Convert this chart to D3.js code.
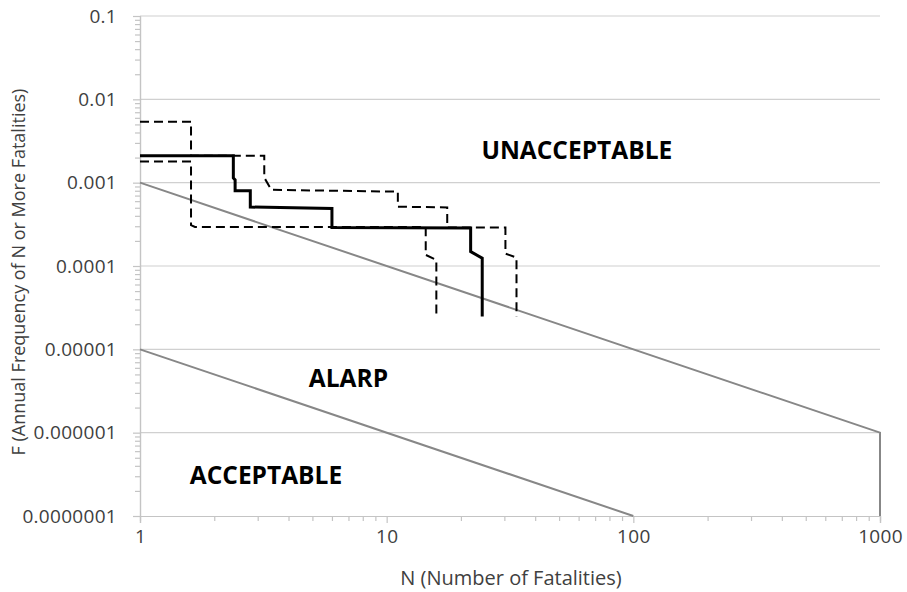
<!DOCTYPE html>
<html>
<head>
<meta charset="utf-8">
<script src="https://cdn.jsdelivr.net/npm/d3@7"></script>
<style>
body{margin:0;background:#fff;}
svg text{font-family:"Open Sans",sans-serif;}
</style>
</head>
<body>
<div id="chart"></div>
<script>
// tick values and labels
const nTicks = [1, 10, 100, 1000];
const nTickLabels = ["1", "10", "100", "1000"];
const fTicks = [0.1, 0.01, 0.001, 0.0001, 0.00001, 0.000001, 0.0000001];
const fTickLabels = ["0.1", "0.01", "0.001", "0.0001", "0.00001", "0.000001", "0.0000001"];

// criterion lines [N, F]
const upperCriterion = [[1, 1e-3], [1000, 1e-6], [1000, 1e-7]];
const lowerCriterion = [[1, 1e-5], [100, 1e-7]];

// FN curves [N, F]
const bestEstimate = [[1, 0.0021], [2.39, 0.0021], [2.39, 0.00114], [2.43, 0.00108], [2.43, 0.0008], [2.8, 0.0008],
  [2.8, 0.00051], [6, 0.00049], [6, 0.00029], [21.9, 0.000285], [21.9, 0.000149], [24.4, 0.000124], [24.4, 0.0000247]];
const upperBound = [[1, 0.0054], [1.61, 0.0054], [1.61, 0.0021], [3.19, 0.0021], [3.19, 0.00115], [3.41, 0.00082],
  [11.1, 0.00078], [11.1, 0.000515], [17.6, 0.000505], [17.6, 0.00029], [30.3, 0.00029], [30.3, 0.000141],
  [33.6, 0.000126], [33.6, 0.0000247]];
const lowerBound = [[1, 0.0018], [1.61, 0.0018], [1.61, 0.00031], [1.67, 0.000294], [14.4, 0.000294],
  [14.4, 0.000136], [15.9, 0.000118], [15.9, 0.0000247]];

// region labels
const regionNames = ["UNACCEPTABLE", "ALARP", "ACCEPTABLE"];
const regionN = [59, 7.0, 3.24];
const regionF = [0.0019, 3.5e-6, 2.42e-7];

const W = 907, H = 592;
const svg = d3.select("#chart").append("svg").attr("width", W).attr("height", H);

const x = d3.scaleLog().domain([1, 1000]).range([140, 880]);
const y = d3.scaleLog().domain([1e-7, 0.1]).range([516, 16]);

// minor tick values 2..9 per decade
const minorN = [];
for (let d = 1; d < 1000; d *= 10) for (let k = 2; k <= 9; k++) minorN.push(d * k);
const minorF = [];
for (let d = 1e-7; d < 0.09; d *= 10) for (let k = 2; k <= 9; k++) minorF.push(d * k);

// gridlines
svg.append("g").selectAll("line").data(fTicks.slice(0, -1)).join("line")
  .attr("x1", x(1)).attr("x2", x(1000))
  .attr("y1", d => y(d)).attr("y2", d => y(d))
  .attr("stroke", "#d0d0d0").attr("stroke-width", 1.2);

// minor ticks
const gxm = svg.append("g").attr("transform", `translate(0,${y(1e-7)})`)
  .call(d3.axisBottom(x).tickValues(minorN).tickSize(5).tickFormat(""));
const gym = svg.append("g").attr("transform", `translate(${x(1)},0)`)
  .call(d3.axisLeft(y).tickValues(minorF).tickSize(5).tickFormat(""));

// major axes
const gx = svg.append("g").attr("transform", `translate(0,${y(1e-7)})`)
  .call(d3.axisBottom(x).tickValues(nTicks).tickSize(7).tickPadding(5)
    .tickFormat((d, i) => nTickLabels[i]));
const gy = svg.append("g").attr("transform", `translate(${x(1)},0)`)
  .call(d3.axisLeft(y).tickValues(fTicks).tickSize(7).tickPadding(16)
    .tickFormat((d, i) => fTickLabels[i]));

[gxm, gym, gx, gy].forEach(g => {
  g.select(".domain").attr("stroke", "#c4c4c4").attr("stroke-width", 1.2);
  g.selectAll(".tick line").attr("stroke", "#c4c4c4").attr("stroke-width", 1.2);
});
[gx, gy].forEach(g => g.selectAll(".tick text")
  .attr("fill", "#404040").style("font-size", "19px").style("letter-spacing", "0.3px")
  .style("font-family", "'Open Sans',sans-serif"));
gx.selectAll(".tick text").attr("dy", "0.8em");

// criterion lines
const line = d3.line().x(d => x(d[0])).y(d => y(d[1]));
[upperCriterion, lowerCriterion].forEach(s => {
  svg.append("path").datum(s).attr("d", line)
    .attr("fill", "none").attr("stroke", "#878787").attr("stroke-width", 2);
});

// FN curves
[upperBound, lowerBound].forEach(s => {
  svg.append("path").datum(s).attr("d", line)
    .attr("fill", "none").attr("stroke", "#000").attr("stroke-width", 2)
    .attr("stroke-dasharray", "9,5");
});
svg.append("path").datum(bestEstimate).attr("d", line)
  .attr("fill", "none").attr("stroke", "#000").attr("stroke-width", 3);

// region labels
svg.append("g").selectAll("text").data(regionNames).join("text")
  .attr("x", (d, i) => x(regionN[i])).attr("y", (d, i) => y(regionF[i]))
  .attr("text-anchor", "middle")
  .style("font-size", "24.5px").style("font-weight", "bold").attr("fill", "#000")
  .text(d => d);

// axis titles
svg.append("text").attr("x", 511).attr("y", 585).attr("text-anchor", "middle")
  .style("font-size", "20px").attr("fill", "#404040").text("N (Number of Fatalities)");
svg.append("text").attr("transform", "translate(25,272) rotate(-90)").attr("text-anchor", "middle")
  .style("font-size", "18px").attr("fill", "#404040").text("F (Annual Frequency of N or More Fatalities)");
</script>
</body>
</html>
